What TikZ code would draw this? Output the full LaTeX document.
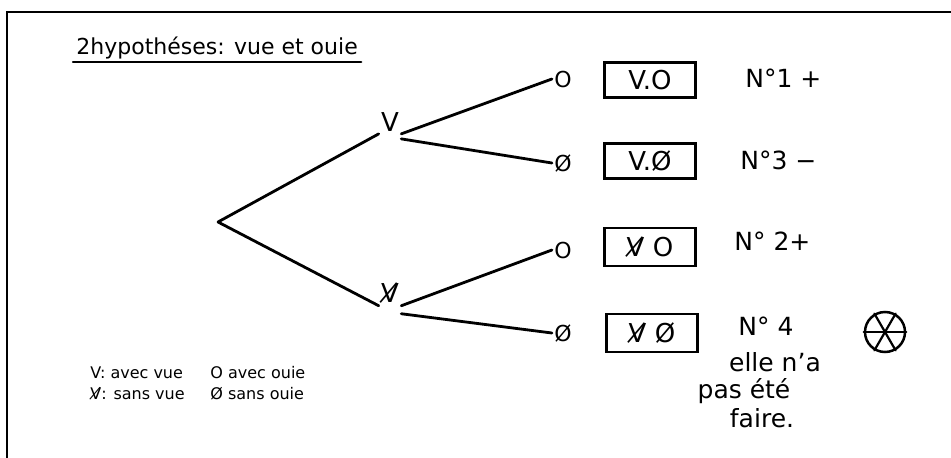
\documentclass[tikz,border=0pt]{standalone}
\usepackage{fontspec}
\setmainfont{DejaVu Sans}
\begin{document}
\begin{tikzpicture}[x=1pt,y=-1pt,line width=2.8pt,line cap=round,
  txt/.style={inner sep=1pt,font=\fontsize{26}{28}\selectfont},
  leaf/.style={inner sep=1pt,font=\fontsize{22}{24}\selectfont},
  hyp/.style={draw,line width=2.5pt,minimum width=91pt,minimum height=35pt,inner sep=2pt,font=\fontsize{26}{28}\selectfont},
  lab/.style={inner sep=1pt,font=\fontsize{25}{28}\selectfont},
  note/.style={inner sep=1pt,font=\fontsize{25}{27}\selectfont},
  leg/.style={inner sep=1pt,anchor=west,font=\fontsize{16}{19}\selectfont},
  branch/.style={line width=2.8pt}]
\useasboundingbox (0,0) rectangle (951,458);
% frame
\coordinate (fbl) at (7,458);
\coordinate (ftl) at (7,12);
\coordinate (ftr) at (951,12);
\draw[line width=2.5pt] (fbl) -- (ftl) -- (ftr);
% title
\node[inner sep=2pt,anchor=south west,font=\fontsize{22}{25}\selectfont] (title) at (73,62) {2hypothéses: vue et ouie};
\draw[line width=2.4pt] (title.south west) -- (title.south east);
% tree
\coordinate (r) at (218,222);
\node[txt] (V) at (390,122) {V};
\node[txt] (nV) at (390,293) {V̸};
\node[leaf] (o1) at (563,79) {O};
\node[leaf] (x1) at (563,163) {Ø};
\node[leaf] (o2) at (563,250) {O};
\node[leaf] (x2) at (563,333) {Ø};
\draw[branch] (r) -- (V.south west);
\draw[branch] (r) -- (nV.south west);
\draw[branch] (V.south east) -- (o1.west);
\draw[branch] ([yshift=-5pt]V.south east) -- (x1.west);
\draw[branch] (nV.south east) -- (o2.west);
\draw[branch] ([yshift=-8pt]nV.south east) -- (x2.west);
% boxes
\node[hyp] (b1) at (650,80) {V.O};
\node[hyp] (b2) at (650,161) {V.Ø};
\node[hyp,minimum height=38pt] (b3) at (650,247) {V̸ O};
\node[hyp,minimum height=38pt] (b4) at (652,333) {V̸ Ø};
% labels
\node[lab,anchor=west] (n1) at (743,78) {N°1 +};
\node[lab,anchor=west] (n3) at (738,160) {N°3 −};
\node[lab,anchor=west] (n2) at (732,241) {N° 2+};
\node[note] (n4) at (766,326) {N° 4};
\node[note] (n5) at (775,362) {elle n'a};
\node[note] (n6) at (744,391) {pas été};
\node[note] (n7) at (762,418) {faire.};
% circled asterisk
\node[draw,circle,line width=2.5pt,minimum size=40pt,inner sep=0pt] (ast) at (885,332) {};
\draw[line width=2.2pt] (ast.180) -- (ast.0);
\draw[line width=2.2pt] (ast.60) -- (ast.240);
\draw[line width=2.2pt] (ast.120) -- (ast.300);
% legend
\node[leg] (l1) at (88,373) {V: avec vue};
\node[leg] (l2) at (208,373) {O avec ouie};
\node[leg] (l3) at (88,394) {V̸: sans vue};
\node[leg] (l4) at (208,394) {Ø sans ouie};
\end{tikzpicture}
\end{document}
